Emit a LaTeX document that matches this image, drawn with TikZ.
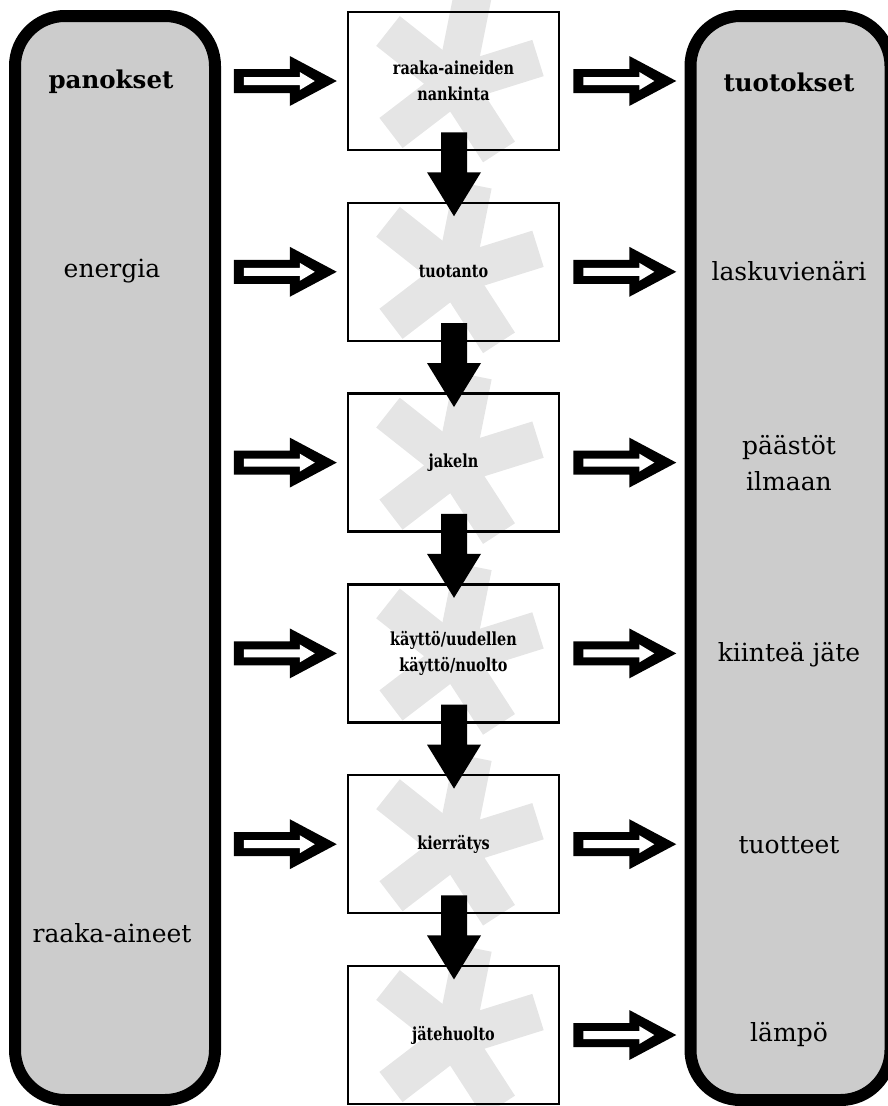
\documentclass[tikz,border=0pt]{standalone}
\usepackage{fontspec}
\setmainfont{DejaVu Serif}
\newfontfamily\boxfont[FakeStretch=0.8]{DejaVu Serif}
\definecolor{panelgray}{RGB}{204,204,204}
\definecolor{astgray}{RGB}{229,229,229}
\newcommand\hollowarr[1]{%
  \fill[black] #1 ++(0,-12) -- ++(56,0) -- ++(0,-13) -- ++(47,25) -- ++(-47,25) -- ++(0,-13) -- ++(-56,0) -- cycle;
  \fill[white] #1 ++(10,-4) -- ++(56,0) -- ++(0,-5) -- ++(15,9) -- ++(-15,9) -- ++(0,-5) -- ++(-56,0) -- cycle;
}
\begin{document}
\begin{tikzpicture}[x=1pt,y=-1pt,
  panel/.style={draw=black,line width=12pt,fill=panelgray,rounded corners=50pt,minimum width=200pt,minimum height=1084pt,inner sep=0pt},
  procbox/.style={draw=black,line width=2.5pt,minimum width=211pt,minimum height=138pt,inner sep=2pt,align=center,font=\boxfont\fontsize{18}{26}\selectfont\bfseries},
  ptext/.style={font=\fontsize{25}{36}\selectfont,align=center},
  phead/.style={font=\fontsize{24.5}{28}\selectfont\bfseries},
  astarm/.style={draw=astgray,line width=38pt,line cap=butt},
]
\useasboundingbox (0,0) rectangle (888,1106);
\clip (0,0) rectangle (888,1106);
% side panels
\node[panel] (L) at (115,558) {};
\node[panel] (R) at (790.5,558) {};
% asterisks behind the process boxes
\foreach \yc in {81,271.8,462.6,653.4,844.2,1035} {
  \foreach \dx/\dy in {18/-90,-67/-53,83/-26,-64/49,44/68}
    \draw[astarm] (455,\yc+3) -- ++(\dx,\dy);
}
% process boxes
\node[procbox] (b1) at (453.5,81) {raaka-aineiden\\nankinta};
\node[procbox] (b2) at (453.5,271.8) {tuotanto};
\node[procbox] (b3) at (453.5,462.6) {jakeln};
\node[procbox] (b4) at (453.5,653.4) {käyttö/uudellen\\käyttö/nuolto};
\node[procbox] (b5) at (453.5,844.2) {kierrätys};
\node[procbox] (b6) at (453.5,1035) {jätehuolto};
% hollow arrows
\foreach \i in {1,...,5} {\hollowarr{([xshift=-113pt]b\i.west)}}
\foreach \i in {1,...,6} {\hollowarr{([xshift=13pt]b\i.east)}}
% down arrows
\foreach \i in {1,...,5} {
  \fill[black] ([xshift=0.5pt]b\i.south) ++(-13,-19) -- ++(26,0) -- ++(0,40) -- ++(14,0) -- ++(-27,44) -- ++(-27,-44) -- ++(14,0) -- cycle;
}
% panel texts
\node[phead] (ph) at (111,82) {panokset};
\node[ptext] (p1) at (112,271) {energia};
\node[ptext] (p2) at (112,933) {raaka-aineet};
\node[phead] (th) at (789,82) {tuotokset};
\node[ptext] (t1) at (789,271) {laskuvienäri};
\node[ptext] (t2) at (789,463) {päästöt\\ilmaan};
\node[ptext] (t3) at (789,655) {kiinteä jäte};
\node[ptext] (t4) at (789,845) {tuotteet};
\node[ptext] (t5) at (789,1035) {lämpö};
\end{tikzpicture}
\end{document}
